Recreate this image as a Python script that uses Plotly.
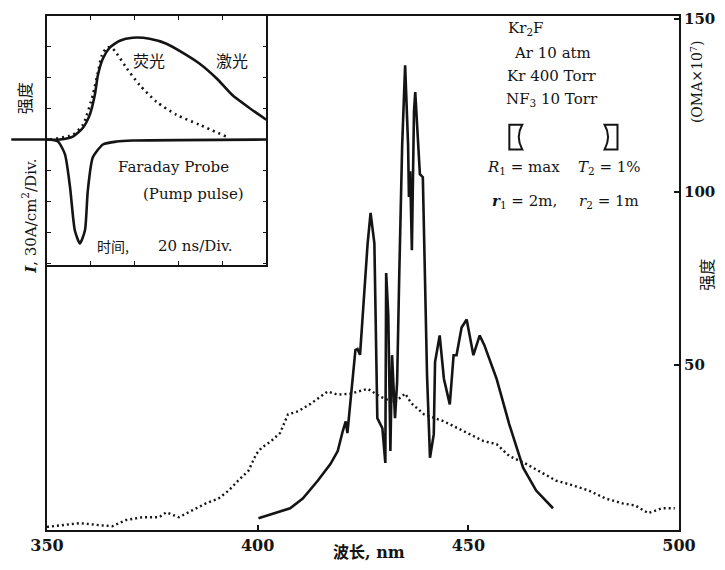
import plotly.graph_objects as go

# ---------------- data ----------------
# main chart: laser spectrum (solid) – wavelength (nm) vs intensity (OMA x 1e7)
laser_nm = [400.2, 407.7, 410.7, 414.3, 417.3, 419.0, 420.2, 420.9, 421.3, 422.0,
            423.2, 423.7, 424.3, 426.1, 426.8, 427.7, 428.4, 429.6, 430.3, 430.5,
            431.0, 431.5, 431.9, 432.6, 433.1, 433.6, 434.3, 435.0, 435.7, 435.9,
            436.2, 436.6, 437.1, 437.4, 438.1, 438.5, 439.2, 439.5, 440.2, 440.9,
            441.8, 442.1, 443.2, 444.2, 445.6, 446.5, 447.2, 448.4, 449.6, 451.2,
            452.7, 453.8, 456.7, 459.7, 463.0, 466.1, 470.1]
laser_val = [5.8, 8.7, 11.5, 16.7, 21.5, 25.2, 31.0, 33.8, 30.4, 39.5,
             54.4, 54.7, 53.0, 85.2, 94.0, 85.2, 34.7, 31.8, 21.8, 76.6,
             64.4, 25.2, 52.9, 34.7, 45.2, 75.8, 113.7, 136.6, 113.7, 98.6,
             106.0, 83.2, 123.2, 128.9, 113.7, 105.2, 104.3, 87.2, 47.2, 23.3,
             30.1, 50.9, 58.6, 46.1, 38.7, 52.9, 52.9, 60.9, 63.2, 52.9,
             58.6, 55.8, 46.1, 33.0, 20.4, 13.8, 8.7]

# main chart: fluorescence spectrum (dotted)
fluor_nm = [350.0, 357.8, 362.5, 365.5, 368.8, 372.6, 376.6, 378.3, 381.3, 384.4,
            387.7, 390.7, 393.1, 395.4, 397.8, 399.7, 400.9, 403.2, 405.3, 407.2,
            409.6, 412.6, 416.6, 419.0, 422.1, 426.1, 429.1, 432.4, 435.0, 436.5,
            439.5, 444.2, 448.0, 453.6, 456.7, 459.7, 463.7, 467.7, 470.8, 474.8,
            478.6, 482.6, 486.6, 489.6, 492.7, 496.0, 499.0]
fluor_val = [3.3, 4.4, 3.8, 3.5, 5.3, 6.1, 6.1, 7.5, 6.1, 8.1,
             10.1, 11.5, 13.8, 16.7, 19.5, 24.4, 26.1, 28.1, 30.4, 35.8,
             36.7, 38.9, 42.4, 41.5, 41.8, 43.2, 40.9, 39.2, 41.8, 39.0,
             35.8, 33.8, 31.5, 28.1, 27.2, 23.8, 21.5, 18.7, 16.7, 15.3,
             13.8, 11.5, 10.1, 9.5, 7.3, 8.7, 8.7]

x_ticks = [350, 400, 450, 500]
y_ticks = [50, 100, 150]

# inset: time (ns) vs signal (divisions)
inset_laser_t = [0, 5.9, 11.8, 16.4, 19.5, 21.8, 23.2, 25.5, 28.6, 33.2, 39.1,
                 46.8, 54.5, 61.8, 69.5, 77.3, 84.5, 92.3, 100]
inset_laser_v = [0, 0, 0.12, 0.48, 1.0, 1.8, 2.6, 3.28, 3.72, 4.0, 4.12,
                 4.08, 3.88, 3.52, 3.08, 2.48, 1.8, 1.28, 0.8]
inset_fluor_t = [1.4, 11.8, 16.4, 20.9, 23.2, 25.0, 27.3, 29.5, 31.8, 36.4,
                 42.3, 50.0, 59.1, 69.5, 81.8]
inset_fluor_v = [0, 0.2, 0.6, 1.8, 2.72, 3.4, 3.72, 3.72, 3.48, 2.88,
                 2.2, 1.52, 1.0, 0.6, 0.12]
pump_t = [0, 5.0, 8.2, 10.5, 12.7, 15.0, 17.3, 18.6, 20.9, 25.5, 31.8, 39.1, 100]
pump_v = [0, -0.08, -0.6, -1.92, -3.68, -4.2, -3.68, -2.08, -0.72, -0.2, -0.08, -0.04, 0]

info_lines = ["Kr<sub>2</sub>F", "Ar 10 atm", "Kr 400 Torr", "NF<sub>3</sub> 10 Torr"]

# ---------------- layout helpers ----------------
W, H = 725, 570
L, R, T, B = 47, 684, 10, 530
INK = "#141414"
SERIF = "'DejaVu Serif', 'Noto Sans CJK SC', serif"
CJK = "'Noto Sans CJK SC', sans-serif"


def px(x):
    return (x - L) / (R - L)


def py(y):
    return (B - y) / (B - T)


fig = go.Figure()

fig.add_trace(go.Scatter(x=fluor_nm, y=fluor_val, mode="lines",
                         line=dict(color=INK, width=2.4, dash="2px,3px"),
                         xaxis="x", yaxis="y", showlegend=False))
fig.add_trace(go.Scatter(x=laser_nm, y=laser_val, mode="lines",
                         line=dict(color=INK, width=2.6),
                         xaxis="x", yaxis="y", showlegend=False))

fig.add_trace(go.Scatter(x=pump_t, y=pump_v, mode="lines",
                         line=dict(color=INK, width=2.6, shape="spline", smoothing=0.6),
                         xaxis="x2", yaxis="y2", showlegend=False))
fig.add_trace(go.Scatter(x=inset_fluor_t, y=inset_fluor_v, mode="lines",
                         line=dict(color=INK, width=2.6, dash="2px,4px", shape="spline", smoothing=0.6),
                         xaxis="x2", yaxis="y2", showlegend=False))
fig.add_trace(go.Scatter(x=inset_laser_t, y=inset_laser_v, mode="lines",
                         line=dict(color=INK, width=2.6, shape="spline", smoothing=0.6),
                         xaxis="x2", yaxis="y2", showlegend=False))

yr_top = 150 + (13 - T) / 3.503
yr_bot = 150 - (B - 13) / 3.503

fig.update_layout(
    width=W, height=H,
    margin=dict(l=L, r=W - R, t=T, b=H - B, pad=0),
    paper_bgcolor="white", plot_bgcolor="white",
    font=dict(family=SERIF, color=INK),
    xaxis=dict(range=[350, 500], tickvals=x_ticks, ticktext=[str(v) for v in x_ticks],
               showgrid=False, zeroline=False, showline=True, linewidth=2, linecolor=INK,
               mirror=True, ticks="inside", ticklen=5, tickwidth=1.5, tickcolor=INK,
               tickfont=dict(family=SERIF, size=16, color=INK, weight="bold"),
               domain=[0, 1]),
    yaxis=dict(range=[yr_bot, yr_top], side="right", tickvals=y_ticks,
               showgrid=False, zeroline=False, showline=True, linewidth=2, linecolor=INK,
               mirror=True, ticks="inside", ticklen=5, tickwidth=1.5, tickcolor=INK,
               tickfont=dict(family=SERIF, size=15, color=INK, weight="bold"),
               domain=[0, 1]),
    xaxis2=dict(range=[0, 100], domain=[0, px(268)], anchor="y2",
                showgrid=False, zeroline=False, showline=True, linewidth=1.5, linecolor=INK,
                mirror="ticks", ticks="inside", ticklen=4, tickcolor=INK, dtick=20,
                showticklabels=False),
    yaxis2=dict(range=[(135 - 262) / 25, (135 - T) / 25], domain=[py(262), 1], anchor="x2",
                showgrid=False, zeroline=False, showline=True, linewidth=1.5, linecolor=INK,
                mirror="ticks", ticks="inside", ticklen=4, tickcolor=INK, dtick=1.25,
                showticklabels=False),
)

ann = []


def add_text(text, x, y, size=15, family=SERIF, angle=0, xanchor="center"):
    ann.append(dict(text=text, x=px(x), y=py(y), xref="paper", yref="paper",
                    showarrow=False, textangle=angle, xanchor=xanchor, yanchor="middle",
                    font=dict(family=family, size=size, color=INK)))


# axis titles
add_text("<b>波长, nm</b>", 372, 553, size=16)
add_text("强度", 24, 93, size=16, family=CJK, angle=-90)
add_text("<b><i>I</i></b>, 30A/cm<sup>2</sup>/Div.", 29, 213, size=15, angle=-90)
add_text("(OMA×10<sup>7</sup>)", 702, 76, size=14, angle=-90)
add_text("强度", 711, 272, size=16, family=CJK, angle=-90)

# info block
for i, (line, yy) in enumerate(zip(info_lines, [23, 47, 71, 94])):
    add_text(line, 556 if i else 530, yy, size=15)
add_text("<i>R</i><sub>1</sub> = max", 527, 163, size=15)
add_text("<i>T</i><sub>2</sub> = 1%", 614, 163, size=15)
add_text("<i><b>r</b></i><sub>1</sub> = 2m,", 528, 198, size=15)
add_text("<i>r</i><sub>2</sub> = 1m", 613, 198, size=15)

# inset labels
add_text("荧光", 150, 55, size=16, family=CJK)
add_text("激光", 233, 55, size=16, family=CJK)
add_text("Faraday Probe", 174, 163, size=15)
add_text("(Pump pulse)", 195, 190, size=15)
add_text("时间,", 114, 243, size=14, family=CJK)
add_text("20 ns/Div.", 197, 243, size=15)

fig.update_layout(annotations=ann)


# mirror glyphs and baseline extension (decorations, paper coordinates)
def path(points_cmds):
    out = []
    for cmd, pts in points_cmds:
        coords = " ".join(f"{px(a):.5f},{py(b):.5f}" for a, b in pts)
        out.append(f"{cmd} {coords}")
    return " ".join(out) + " Z"


left_mirror = path([("M", [(513, 120)]), ("L", [(526, 120)]),
                    ("Q", [(519, 132), (526, 145)]), ("L", [(513, 145)])])
right_mirror = path([("M", [(622, 120)]), ("L", [(609, 120)]),
                     ("Q", [(616, 132), (609, 145)]), ("L", [(622, 145)])])
shapes = [
    dict(type="path", path=left_mirror, xref="paper", yref="paper",
         line=dict(color=INK, width=2)),
    dict(type="path", path=right_mirror, xref="paper", yref="paper",
         line=dict(color=INK, width=2)),
    dict(type="line", xref="paper", yref="y2", x0=px(11), x1=0, y0=0, y1=0,
         line=dict(color=INK, width=2.6)),
]
fig.update_layout(shapes=shapes)

fig.write_html("out.html")
